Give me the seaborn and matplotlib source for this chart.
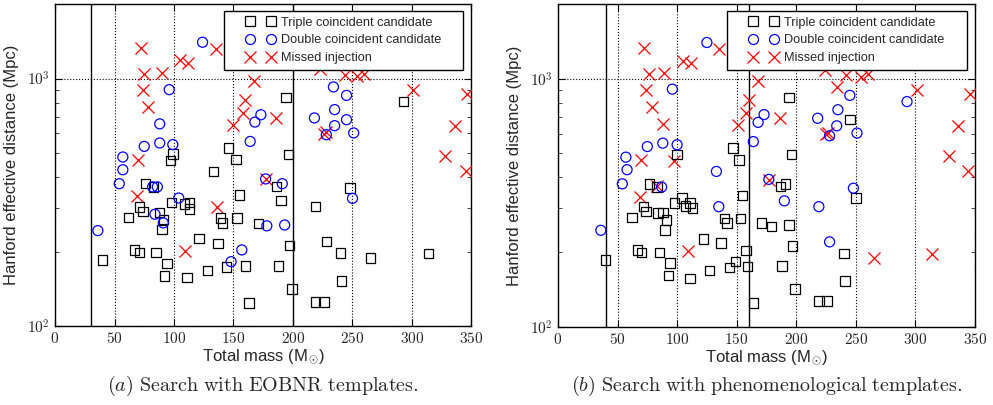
import numpy as np
import pandas as pd
import matplotlib
matplotlib.use("Agg")
import matplotlib.pyplot as plt
import seaborn as sns
from matplotlib.lines import Line2D
from matplotlib.legend_handler import HandlerLine2D
from matplotlib.ticker import FixedLocator, FuncFormatter, LogLocator, NullFormatter

# ---------------- data ----------------
# panel (a): EOBNR templates
a_trip_mass = [40, 62, 67, 71, 71, 74, 76, 83, 85, 88, 91, 90, 94, 92, 97, 99, 98, 109, 113, 113,
               111, 121, 128, 133, 137, 139, 141, 144, 146, 152, 153, 155, 160, 163, 171, 186, 190,
               194, 196, 197, 199, 219, 219, 226, 228, 240, 241, 248, 265, 293, 314, 188]
a_trip_dist = [185, 274, 203, 198, 303, 290, 376, 365, 198, 288, 270, 246, 179, 159, 466, 495, 315,
               311, 315, 297, 157, 226, 168, 422, 216, 273, 261, 173, 525, 472, 273, 338, 175, 124,
               260, 367, 321, 840, 492, 211, 141, 304, 125, 125, 219, 197, 152, 361, 188, 809, 196, 175]
a_doub_mass = [36, 54, 57, 57, 75, 82, 86, 84, 88, 88, 91, 96, 99, 104, 124, 148, 157, 164, 168,
               173, 177, 178, 191, 193, 218, 228, 234, 235, 235, 245, 245, 250, 251]
a_doub_dist = [243, 376, 482, 428, 532, 365, 365, 283, 656, 549, 261, 902, 541, 329, 1402, 182, 203,
               557, 667, 714, 393, 254, 376, 256, 693, 593, 925, 645, 749, 682, 855, 328, 603]
a_miss_mass = [69, 70, 72, 74, 75, 78, 90, 105, 109, 112, 135, 136, 150, 158, 160, 167, 177, 186,
               223, 226, 228, 244, 254, 260, 301, 328, 336, 345, 346]
a_miss_dist = [335, 467, 1331, 897, 1048, 767, 1055, 1183, 201, 1159, 1322, 302, 650, 726, 822, 975,
               392, 695, 1097, 598, 608, 1037, 1021, 1047, 897, 488, 645, 422, 869]

# panel (b): phenomenological templates
b_trip_mass = [40, 62, 67, 70, 72, 74, 77, 83, 85, 84, 88, 91, 90, 94, 93, 98, 104, 107, 111, 113,
               111, 100, 122, 127, 137, 140, 142, 144, 149, 147, 152, 153, 155, 158, 159, 164, 171,
               179, 187, 191, 194, 194, 196, 197, 199, 219, 226, 240, 241, 245, 250, 188]
b_trip_dist = [186, 276, 204, 199, 305, 292, 377, 366, 199, 288, 289, 270, 246, 181, 161, 315, 330,
               307, 315, 301, 157, 494, 226, 169, 218, 274, 262, 173, 183, 525, 471, 274, 338, 203,
               175, 125, 262, 254, 368, 376, 842, 257, 494, 212, 142, 127, 127, 198, 153, 684, 330, 176]
b_doub_mass = [36, 54, 57, 58, 75, 87, 88, 96, 100, 125, 133, 135, 164, 168, 173, 177, 190, 218,
               219, 228, 228, 234, 235, 245, 248, 251, 293]
b_doub_dist = [245, 377, 483, 430, 533, 366, 550, 908, 542, 1400, 423, 305, 558, 667, 717, 393, 322,
               693, 305, 589, 220, 646, 750, 857, 362, 604, 809]
b_miss_mass = [69, 70, 72, 74, 76, 79, 83, 88, 89, 97, 105, 109, 112, 135, 151, 158, 160, 168, 177,
               186, 224, 225, 227, 234, 242, 254, 260, 265, 301, 314, 328, 336, 344, 346]
b_miss_dist = [335, 469, 1331, 897, 1048, 769, 368, 657, 1055, 464, 1183, 202, 1156, 1321, 653, 727,
               822, 975, 392, 694, 1087, 596, 606, 926, 1038, 1016, 1048, 189, 897, 197, 489, 646,
               423, 870]

labels = ["Triple coincident candidate", "Double coincident candidate", "Missed injection"]
captions = [r"$(\mathit{a})\ \mathrm{Search\ with\ EOBNR\ templates.}$",
            r"$(\mathit{b})\ \mathrm{Search\ with\ phenomenological\ templates.}$"]
mass_cuts = [(30, 200), (40, 160)]
xticks = [0, 50, 100, 150, 200, 250, 300, 350]

# ---------------- style ----------------
sns.set_style("ticks")
plt.rcParams["font.family"] = ["Liberation Sans", "DejaVu Sans"]
plt.rcParams["mathtext.fontset"] = "cm"
plt.rcParams["xtick.direction"] = "in"
plt.rcParams["ytick.direction"] = "in"

fig = plt.figure(figsize=(9.93, 4.05), dpi=100)
axes = [fig.add_axes([0.0554, 0.195, 0.4194, 0.795]),
        fig.add_axes([0.5619, 0.193, 0.4199, 0.797])]

panels = [
    (a_trip_mass, a_trip_dist, a_doub_mass, a_doub_dist, a_miss_mass, a_miss_dist),
    (b_trip_mass, b_trip_dist, b_doub_mass, b_doub_dist, b_miss_mass, b_miss_dist),
]

for ax, data, cuts, cap in zip(axes, panels, mass_cuts, captions):
    tm, td, dm, dd, mm, md = data
    df_t = pd.DataFrame({"mass": tm, "dist": td})
    df_d = pd.DataFrame({"mass": dm, "dist": dd})
    df_m = pd.DataFrame({"mass": mm, "dist": md})

    sns.scatterplot(data=df_m, x="mass", y="dist", marker="x", s=75, color="red",
                    linewidth=0.9, ax=ax, zorder=3, legend=False)
    sns.scatterplot(data=df_t, x="mass", y="dist", marker="s", s=46, facecolor="none",
                    edgecolor="black", linewidth=0.9, ax=ax, zorder=3, legend=False)
    sns.scatterplot(data=df_d, x="mass", y="dist", marker="o", s=52, facecolor="none",
                    edgecolor="blue", linewidth=0.9, ax=ax, zorder=3, legend=False)

    ax.set_yscale("log")
    ax.set_xlim(0, 350)
    ax.set_ylim(100, 2000)

    for c in cuts:
        ax.axvline(c, color="black", lw=1.0, zorder=2)

    ax.xaxis.set_major_locator(FixedLocator(xticks))
    ax.xaxis.set_major_formatter(FuncFormatter(lambda v, p: f"${v:g}$"))
    ax.yaxis.set_major_locator(LogLocator(base=10, numticks=10))
    ax.yaxis.set_minor_locator(LogLocator(base=10, subs=np.arange(2, 10), numticks=20))
    ax.yaxis.set_minor_formatter(NullFormatter())
    ax.yaxis.set_major_formatter(FuncFormatter(lambda v, p: f"$10^{{{int(round(np.log10(v)))}}}$"))
    ax.tick_params(axis="both", which="major", labelsize=11, length=5, width=0.8,
                   top=True, right=True, color="black")
    ax.tick_params(axis="y", which="minor", length=3, width=0.6, left=True, right=True)
    ax.grid(True, which="major", linestyle=":", color="black", lw=0.8)
    for s in ax.spines.values():
        s.set_color("black")
        s.set_linewidth(1.0)

    ax.set_xlabel(r"Total mass (M$_{\odot}$)", fontsize=12, labelpad=1)
    ax.set_ylabel("Hanford effective distance (Mpc)", fontsize=12, labelpad=6)

    handles = [
        Line2D([], [], ls="", marker="s", ms=6.8, mfc="none", mec="black", mew=0.9),
        Line2D([], [], ls="", marker="o", ms=7.2, mfc="none", mec="blue", mew=0.9),
        Line2D([], [], ls="", marker="x", ms=8.6, color="red", mew=0.9),
    ]
    leg = ax.legend(handles, labels, loc="upper left", mode="expand",
                    bbox_to_anchor=(0.405, 0.5, 0.575, 0.479), borderaxespad=0,
                    fontsize=9.2, numpoints=2, handlelength=4.85, handletextpad=-0.85,
                    labelspacing=0.45, borderpad=0.45, fancybox=False, framealpha=1,
                    handler_map={Line2D: HandlerLine2D(numpoints=2, marker_pad=1.6)})
    leg.get_frame().set_edgecolor("black")
    leg.get_frame().set_linewidth(1.0)
    leg.set_zorder(10)

    pos = ax.get_position()
    fig.text(pos.x0 + pos.width / 2, 0.048, cap, ha="center", va="center", fontsize=14.5)

fig.savefig("out.png", dpi=100, facecolor="white")
